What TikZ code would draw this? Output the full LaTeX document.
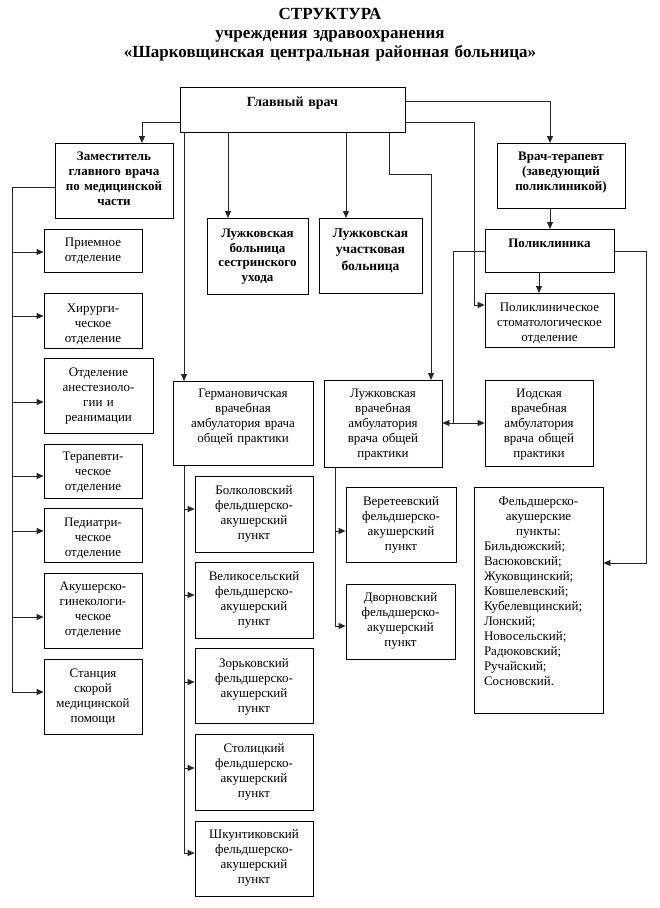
\documentclass[tikz,border=0pt]{standalone}
\usepackage{fontspec}
\setmainfont{Liberation Serif}
\usetikzlibrary{arrows.meta}
\begin{document}
\begin{tikzpicture}[x=1pt,y=-1pt,
  bx/.style n args={3}{draw=black, line width=0.8pt, inner xsep=0pt, inner ysep=0pt,
    anchor=north, align=center, text width=#1pt, text height=#2pt, text depth=#3pt,
    font=\fontsize{13}{15}\selectfont},
  bbx/.style n args={3}{bx={#1}{#2}{#3}, font=\bfseries\fontsize{13}{15}\selectfont},
  ln/.style={draw=black!85, line width=0.8pt},
  arr/.style={ln, -{Triangle[length=7pt,width=6pt]}}]
\useasboundingbox (0,0) rectangle (659,908);

% title
\node[anchor=base, align=center, text width=560pt, inner sep=0pt,
  font=\bfseries\fontsize{17}{19}\selectfont] (title) at (330,19.5)
  {СТРУКТУРА\\учреждения здравоохранения\\«Шарковщинская центральная районная больница»};

% top level
\node[bbx={225}{19}{26}, font=\bfseries\fontsize{14}{15}\selectfont] (glav) at (292.5,87) {Главный врач};
\node[bbx={118}{17}{58}] (zam) at (114,143) {Заместитель\\главного врача\\по медицинской\\части};
\node[bbx={128}{17}{48}] (vrach) at (561,143) {Врач-терапевт\\(заведующий\\поликлиникой)};
\node[bbx={101}{19}{57}, font=\bfseries\fontsize{13}{14.7}\selectfont] (sestr) at (257.5,218) {Лужковская\\больница\\сестринского\\ухода};
\node[bbx={103}{19}{56}, font=\bfseries\fontsize{13.5}{16.5}\selectfont] (uchast) at (370.5,218) {Лужковская\\участковая\\больница};
\node[bbx={129}{18}{25}] (polik) at (549.5,229) {Поликлиника};

% left column
\node[bx={98}{17}{26}] (priem) at (93,229) {Приемное\\отделение};
\node[bx={98}{19}{36}] (khir) at (93,293) {Хирурги-\\ческое\\отделение};
\node[bx={109}{18}{57}] (anest) at (98.5,358) {Отделение\\анестезиоло-\\гии и\\реанимации};
\node[bx={98}{16}{38}] (terap) at (93,444) {Терапевти-\\ческое\\отделение};
\node[bx={98}{18}{36}] (ped) at (93,508) {Педиатри-\\ческое\\отделение};
\node[bx={98}{17}{58}] (akush) at (93,573) {Акушерско-\\гинекологи-\\ческое\\отделение};
\node[bx={98}{18}{57}] (stants) at (93,659) {Станция\\скорой\\медицинской\\помощи};

% ambulatories
\node[bx={140}{16}{68}] (germ) at (243,381) {Германовичская\\врачебная\\амбулатория врача\\общей практики};
\node[bx={118}{17}{70}] (lva) at (383,380) {Лужковская\\врачебная\\амбулатория\\врача общей\\практики};
\node[bx={108}{17}{69}] (iod) at (539,380) {Иодская\\врачебная\\амбулатория\\врача общей\\практики};
\node[bx={129}{18}{36}] (stomat) at (549.5,293) {Поликлиническое\\стоматологическое\\отделение};

% FAP under Germanovichi
\node[bx={118}{18}{58}] (bolk) at (254,476) {Болколовский\\фельдшерско-\\акушерский\\пункт};
\node[bx={118}{18}{58}] (velik) at (254,562) {Великосельский\\фельдшерско-\\акушерский\\пункт};
\node[bx={118}{19}{56}] (zork) at (254,648) {Зорьковский\\фельдшерско-\\акушерский\\пункт};
\node[bx={118}{18}{58}] (stol) at (254,734) {Столицкий\\фельдшерско-\\акушерский\\пункт};
\node[bx={118}{17}{58}] (shk) at (254,821) {Шкунтиковский\\фельдшерско-\\акушерский\\пункт};

% FAP under Luzhki
\node[bx={110}{18}{57}] (veret) at (401,487) {Веретеевский\\фельдшерско-\\акушерский\\пункт};
\node[bx={109}{17}{58}] (dvorn) at (400.5,584) {Дворновский\\фельдшерско-\\акушерский\\пункт};

% FAP list
\node[bx={109}{18}{208}, inner xsep=10pt, align=left] (feld) at (538.5,487)
  {{\centering Фельдшерско-\\акушерские\\пункты:\par}Бильдюжский;\\Васюковский;\\Жуковщинский;\\Ковшелевский;\\Кубелевщинский;\\Лонский;\\Новосельский;\\Радюковский;\\Ручайский;\\Сосновский.};

% connectors from chief
\draw[arr] (glav.west |- 0,122) -| (142,0 |- zam.north);
\draw[arr] (glav.east |- 0,101) -| (550,0 |- vrach.north);
\draw[arr] (glav.east |- 0,122) -| (474,305) -- (stomat.west |- 0,305);
\draw[arr] (389,0 |- glav.south) |- (431,174) -- (431,0 |- lva.north);
\draw[arr] (228,0 |- glav.south) -- (228,0 |- sestr.north);
\draw[arr] (346,0 |- glav.south) -- (346,0 |- uchast.north);
\draw[arr] (184,0 |- glav.south) -- (184,0 |- germ.north);

% deputy trunk
\coordinate (zb) at (12,692);
\draw[ln] (zam.west |- 0,187) -| (zb);
\foreach \n/\y in {priem/252, khir/316, anest/402, terap/476, ped/531, akush/617, stants/692}
  \draw[arr] (12,\y) -- (\n.west |- 0,\y);

% polyclinic
\draw[arr] (550,0 |- vrach.south) -- (550,0 |- polik.north);
\draw[arr] (539,0 |- polik.south) -- (539,0 |- stomat.north);
\coordinate (pj) at (453,423);
\draw[ln] (polik.west |- 0,251) -| (pj);
\draw[arr] (pj) -- (lva.east |- pj);
\draw[arr] (pj) -- (iod.west |- pj);
\draw[arr] (polik.east |- 0,251) -| (646,563) -- (feld.east |- 0,563);

% Germanovichi trunk
\coordinate (gb) at (184,853);
\draw[ln] (184,0 |- germ.south) -- (gb);
\foreach \n/\y in {bolk/509, velik/595, zork/682, stol/768, shk/853}
  \draw[arr] (184,\y) -- (\n.west |- 0,\y);

% Luzhki trunk
\coordinate (lb) at (335,626);
\draw[ln] (335,0 |- lva.south) -- (lb);
\foreach \n/\y in {veret/531, dvorn/626}
  \draw[arr] (335,\y) -- (\n.west |- 0,\y);
\end{tikzpicture}
\end{document}
